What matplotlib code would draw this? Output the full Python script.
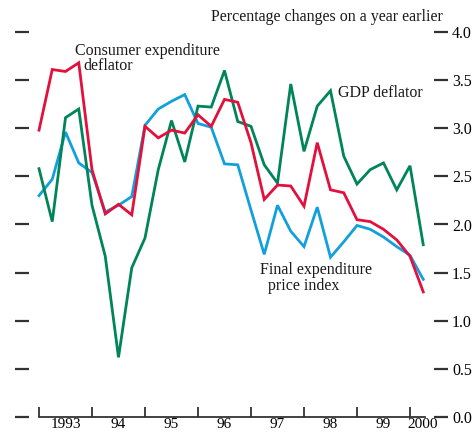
import matplotlib
matplotlib.use("Agg")
import matplotlib.pyplot as plt
import numpy as np

plt.rcParams['font.family'] = ['Liberation Serif', 'DejaVu Serif']

# Quarterly data, 1993 Q1 - 2000 Q2 (percentage changes on a year earlier)
start_year = 1993
consumer_deflator = [2.98, 3.61, 3.59, 3.68, 2.57, 2.11, 2.21, 2.10,
                     3.02, 2.90, 2.98, 2.95, 3.14, 3.02, 3.30, 3.27,
                     2.85, 2.26, 2.41, 2.40, 2.19, 2.85, 2.36, 2.33,
                     2.05, 2.03, 1.95, 1.84, 1.67, 1.30]
gdp_deflator = [2.58, 2.03, 3.11, 3.20, 2.20, 1.67, 0.62, 1.55,
                1.86, 2.57, 3.08, 2.65, 3.23, 3.22, 3.60, 3.07,
                3.02, 2.62, 2.43, 3.46, 2.76, 3.23, 3.39, 2.71,
                2.42, 2.57, 2.64, 2.36, 2.61, 1.79]
final_exp_index = [2.30, 2.47, 2.96, 2.64, 2.54, 2.13, 2.20, 2.29,
                   3.03, 3.20, 3.28, 3.35, 3.05, 3.01, 2.63, 2.62,
                   2.15, 1.69, 2.20, 1.93, 1.77, 2.18, 1.66, 1.82,
                   1.99, 1.95, 1.87, 1.77, 1.68, 1.43]
year_labels = ["1993", "94", "95", "96", "97", "98", "99", "2000"]
y_ticks = [0.0, 0.5, 1.0, 1.5, 2.0, 2.5, 3.0, 3.5, 4.0]

x = start_year + np.arange(len(consumer_deflator)) / 4.0

fig = plt.figure(figsize=(4.74, 4.36), dpi=100)
ax = fig.add_axes([29/474, 19/436, 405/474, 385/436])

red = '#E2103C'
green = '#00845A'
blue = '#12A0DC'
lw = 2.0
ax.plot(x, final_exp_index, color=blue, lw=lw, solid_joinstyle='miter')
ax.plot(x, gdp_deflator, color=green, lw=lw, solid_joinstyle='miter')
ax.plot(x, consumer_deflator, color=red, lw=lw, solid_joinstyle='miter')

ax.set_xlim(start_year - 10/53, start_year + (434 - 39)/53)
ax.set_ylim(0, 4)

for s in ['top', 'left', 'right']:
    ax.spines[s].set_visible(False)
ax.spines['bottom'].set_bounds(start_year, x[-1] + 0.03)
ax.spines['bottom'].set_color('#333333')
ax.spines['bottom'].set_linewidth(1.3)

# x ticks at year boundaries, labels at mid-year
years = np.arange(start_year, start_year + len(year_labels))
ax.set_xticks(years)
ax.set_xticklabels([])
ax.tick_params(axis='x', which='major', direction='in', length=7, width=1.3, color='#333333')
label_pos = [y + 0.5 for y in years[:-1]] + [years[-1] + 0.23]
ax.set_xticks(label_pos, minor=True)
ax.set_xticklabels(year_labels, minor=True, fontsize=11)
ax.tick_params(axis='x', which='minor', length=0, pad=0.5)

# y ticks both sides, labels right
ax.set_yticks(y_ticks)
ax.set_yticklabels([f"{v:.1f}" for v in y_ticks], fontsize=11.5)
ax.tick_params(axis='y', left=True, right=True, labelleft=False, labelright=True,
               direction='out', length=10, width=1.6, color='#333333', pad=3)

tc = '#1a1a1a'
fs = 11.5
def px2data(px, py):
    return start_year + (px - 39)/53, (418 - py)/96.5

ax.text(*px2data(75, 51), "Consumer expenditure", fontsize=fs, color=tc, va='center', ha='left')
ax.text(*px2data(83, 66), "deflator", fontsize=fs, color=tc, va='center', ha='left')
ax.text(*px2data(338, 93), "GDP deflator", fontsize=fs, color=tc, va='center', ha='left')
ax.text(*px2data(260, 271), "Final expenditure", fontsize=fs, color=tc, va='center', ha='left')
ax.text(*px2data(268, 287), "price index", fontsize=fs, color=tc, va='center', ha='left')

fig.text(443/474, 1 - 17/436, "Percentage changes on a year earlier", fontsize=fs,
         color=tc, ha='right', va='center')

fig.savefig("out.png", dpi=100)
